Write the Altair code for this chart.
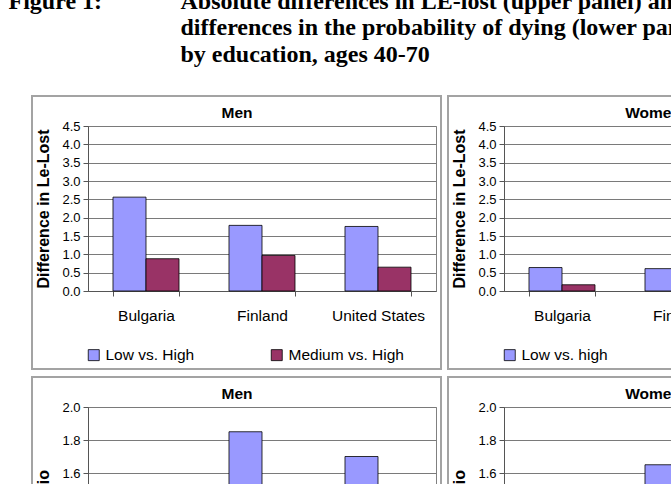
import altair as alt
import pandas as pd

# ---------------- data ----------------
countries = ["Bulgaria", "Finland", "United States"]
men_groups = ["Low vs. High", "Medium vs. High"]
women_groups = ["Low vs. high", "Medium vs. high"]

# Upper panel: difference in LE-lost (None = not visible in the cropped picture)
men_le_low = [2.56, 1.79, 1.76]
men_le_medium = [0.88, 0.97, 0.65]
women_le_low = [0.64, 0.61, None]
women_le_medium = [0.17, None, None]

# Lower panel: ratio of the probability of dying
men_ratio_low = [None, 1.85, 1.70]
men_ratio_medium = [None, None, None]
women_ratio_low = [None, 1.65, None]
women_ratio_medium = [None, None, None]

le_ticks = [0.0, 0.5, 1.0, 1.5, 2.0, 2.5, 3.0, 3.5, 4.0, 4.5]
ratio_ticks = [1.0, 1.2, 1.4, 1.6, 1.8, 2.0]

figure_label = "Figure 1:"
figure_lines = [
    "Absolute differences in LE-lost (upper panel) and relative",
    "differences in the probability of dying (lower panel)",
    "by education, ages 40-70",
]

# ---------------- styling ----------------
LOW = "#9999FF"
MED = "#993366"
FRAME = "#a3a3a3"
GRID = "#7a7a7a"
AXIS = "#555555"
SANS = "Liberation Sans"
SERIF = "Liberation Serif"
PW, PH = 348, 165


def make_df(low, med, groups):
    rows = []
    for vals, g in ((low, groups[0]), (med, groups[1])):
        for c, v in zip(countries, vals):
            if v is not None:
                rows.append({"country": c, "group": g, "value": v})
    return pd.DataFrame(rows, columns=["country", "group", "value"])


def panel(df, groups, title, ytitle, ydomain, yticks):
    frame = alt.Chart(alt.Data(values=[{}])).mark_rect(
        fill="white", fillOpacity=0, stroke=FRAME, strokeWidth=2
    ).encode(
        x=alt.value(-56), x2=alt.value(PW + 5), y=alt.value(-30), y2=alt.value(243)
    )
    bars = alt.Chart(df).mark_bar(stroke="black", strokeWidth=0.8).encode(
        x=alt.X(
            "country:N",
            scale=alt.Scale(domain=countries, paddingInner=0.431, paddingOuter=0.2155),
            axis=alt.Axis(
                title=None, labelAngle=0, tickBand="extent", grid=False,
                labelFont=SANS, labelFontSize=15.5, labelColor="black",
                labelPadding=12, tickSize=5, tickColor=AXIS, domainColor=AXIS,
            ),
        ),
        xOffset=alt.XOffset(
            "group:N", scale=alt.Scale(domain=groups, paddingInner=0, paddingOuter=0)
        ),
        y=alt.Y(
            "value:Q",
            scale=alt.Scale(domain=ydomain, nice=False, zero=False),
            axis=alt.Axis(
                values=yticks, format=".1f", title=ytitle, grid=True, gridColor=GRID,
                gridWidth=1, labelFont=SANS, labelFontSize=13, labelColor="black",
                labelPadding=3, tickSize=5, tickColor=AXIS, domainColor=AXIS,
                titleFont=SANS, titleFontSize=16, titleFontWeight="bold",
                titleColor="black", titlePadding=10, labelOverlap=False,
            ),
        ),
        y2=alt.datum(ydomain[0]),
        color=alt.Color(
            "group:N",
            scale=alt.Scale(domain=groups, range=[LOW, MED]),
            legend=alt.Legend(
                orient="none", legendX=-2, legendY=221, direction="horizontal",
                title=None, symbolType="square", symbolSize=121,
                symbolStrokeColor="black", symbolStrokeWidth=0.8, symbolOpacity=1,
                labelFont=SANS, labelFontSize=15.5, labelColor="black",
                labelOffset=4, columnPadding=74, padding=0,
            ),
        ),
    )
    return alt.layer(frame, bars).properties(
        width=PW, height=PH,
        title=alt.TitleParams(
            title, font=SANS, fontSize=15.5, fontWeight="bold", color="black",
            anchor="middle", offset=-38, dx=-25, baseline="alphabetic",
        ),
    )


men_up = panel(make_df(men_le_low, men_le_medium, men_groups), men_groups,
               "Men", "Difference in Le-Lost", [0, 4.5], le_ticks)
women_up = panel(make_df(women_le_low, women_le_medium, women_groups), women_groups,
                 "Women", "Difference in Le-Lost", [0, 4.5], le_ticks)
men_low = panel(make_df(men_ratio_low, men_ratio_medium, men_groups), men_groups,
                "Men", "Ratio", [1.0, 2.0], ratio_ticks)
women_low = panel(make_df(women_ratio_low, women_ratio_medium, women_groups), women_groups,
                  "Women", "Ratio", [1.0, 2.0], ratio_ticks)

RES = dict(color="independent", x="independent", y="independent", xOffset="independent")

upper = alt.hconcat(
    men_up, women_up, spacing=3,
    title=alt.TitleParams(
        figure_lines, anchor="start", dx=150, font=SERIF, fontSize=24,
        fontWeight="bold", color="black", lineHeight=26.5, offset=28,
    ),
).resolve_scale(**RES)

lower = alt.hconcat(men_low, women_low, spacing=3).resolve_scale(**RES)

chart = alt.vconcat(
    upper, lower, spacing=4,
    title=alt.TitleParams(
        figure_label, anchor="start", dx=-22, font=SERIF, fontSize=24,
        fontWeight="bold", color="black", offset=-24,
    ),
    padding={"left": 8, "top": -11, "right": -188, "bottom": -167},
    background="white",
).resolve_scale(**RES).configure_view(stroke="#808080", strokeWidth=1)

chart.save("out.html", embed_options={"renderer": "svg", "actions": False})
